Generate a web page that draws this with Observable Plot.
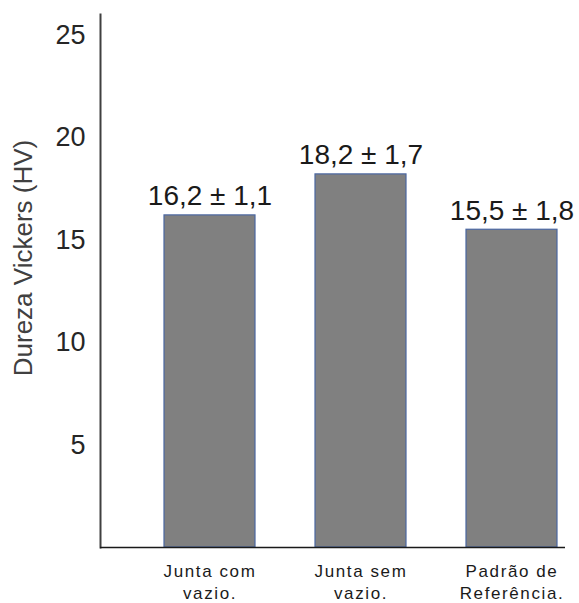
<!DOCTYPE html>
<html>
<head>
<meta charset="utf-8">
<script src="https://cdn.jsdelivr.net/npm/d3@7"></script>
<script src="https://cdn.jsdelivr.net/npm/@observablehq/plot@0.6"></script>
<style>
  body { margin: 0; background: #fff; }
  #chart svg { display: block; font-family: "Liberation Sans", Arial, sans-serif; }
  #chart g[aria-label="x-axis tick label"] text { letter-spacing: 1.6px; }
</style>
</head>
<body>
<div id="chart"></div>
<script>
// Vickers hardness (HV) of the three specimen groups, mean ± standard deviation
const categories = ["Junta com vazio.", "Junta sem vazio.", "Padrão de Referência."];
const categoryLines = ["Junta com\nvazio.", "Junta sem\nvazio.", "Padrão de\nReferência."];
const means = [16.2, 18.2, 15.5];
const deviations = [1.1, 1.7, 1.8];
const yTicks = [5, 10, 15, 20, 25];
const yTitle = "Dureza Vickers (HV)";

const comma = v => v.toFixed(1).replace(".", ",");
const rows = categories.map((c, i) => ({
  category: c,
  mean: means[i],
  sd: deviations[i],
  label: `${comma(means[i])} ± ${comma(deviations[i])}`
}));
const lineOf = new Map(categories.map((c, i) => [c, categoryLines[i]]));

const chart = Plot.plot({
  width: 579,
  height: 603,
  marginLeft: 100,
  marginRight: 14,
  marginTop: 14,
  marginBottom: 56,
  style: { fontFamily: "'Liberation Sans', Arial, sans-serif", color: "#1a1a1a", background: "#fff" },
  x: { domain: categories, range: [100, 620], paddingInner: 0.4, paddingOuter: 0.416 },
  y: { domain: [0, 26] },
  marks: [
    Plot.barY(rows, {
      x: "category", y: "mean",
      fill: "#808080", stroke: "#4a67a1", strokeWidth: 1.2
    }),
    Plot.text(rows, {
      x: "category", y: "mean", text: "label",
      lineAnchor: "bottom", dy: -10,
      fontSize: 28, fill: "#1a1a1a"
    }),
    Plot.axisY({
      ticks: yTicks, tickSize: 0, tickPadding: 15,
      fontSize: 27, label: null, fill: "#262626"
    }),
    Plot.text([yTitle], {
      frameAnchor: "left", textAnchor: "middle", rotate: -90, dx: -77, dy: -23,
      fontSize: 26, fill: "#404040"
    }),
    Plot.axisX({
      tickSize: 0, tickPadding: 14, fontSize: 17, lineHeight: 1.28,
      tickFormat: d => lineOf.get(d), label: null, fill: "#1a1a1a"
    }),
    Plot.frame({ anchor: "left", stroke: "#404040", strokeWidth: 2 }),
    Plot.ruleY([0], { stroke: "#1a1a1a", strokeWidth: 1.6 })
  ]
});

document.getElementById("chart").append(chart);
</script>
</body>
</html>
